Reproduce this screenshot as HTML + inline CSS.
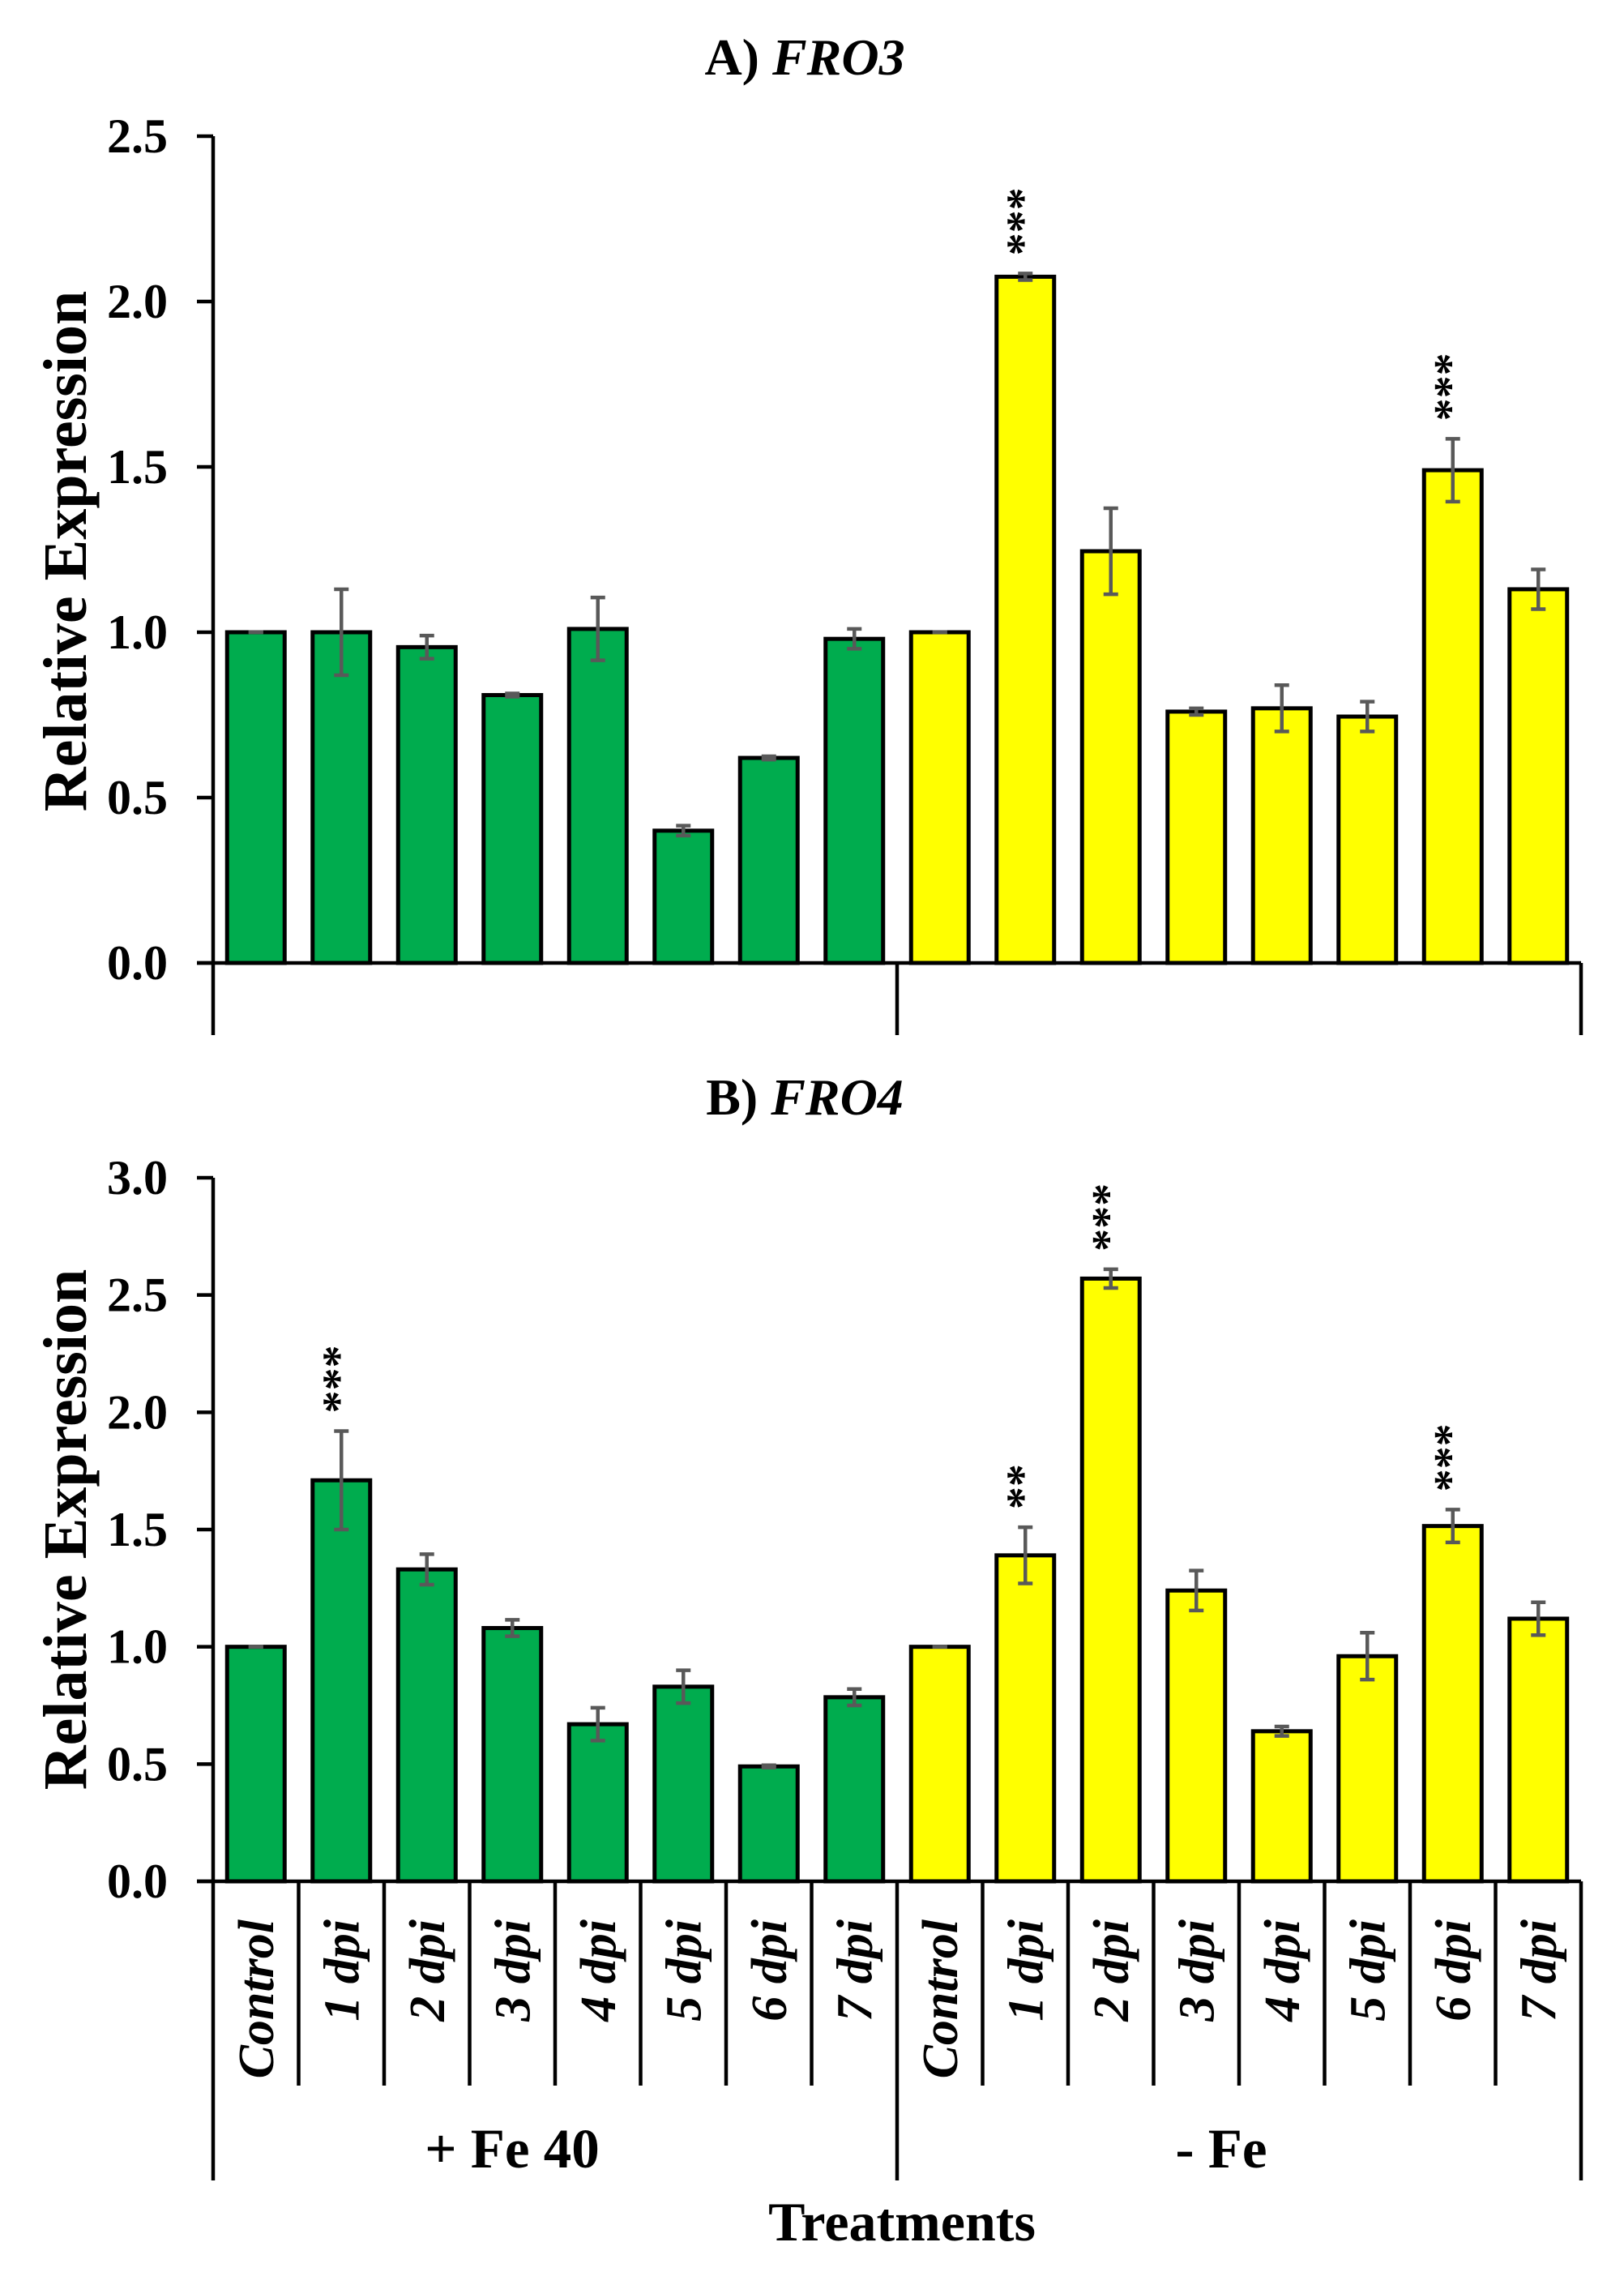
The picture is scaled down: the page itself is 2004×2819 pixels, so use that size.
<!DOCTYPE html>
<html><head><meta charset="utf-8">
<style>
html,body{margin:0;padding:0;background:#fff;}
svg{display:block;}
text{font-family:"Liberation Serif",serif;font-weight:bold;fill:#000;}
</style></head>
<body>
<svg id="fig" width="2004" height="2819" viewBox="0 0 2004 2819" xmlns="http://www.w3.org/2000/svg"></svg>
<script>
const categories = ["Control","1 dpi","2 dpi","3 dpi","4 dpi","5 dpi","6 dpi","7 dpi","Control","1 dpi","2 dpi","3 dpi","4 dpi","5 dpi","6 dpi","7 dpi"];
const groups = ["+ Fe 40","- Fe"];
const fro3Values = [1.0,1.0,0.955,0.81,1.01,0.40,0.62,0.98, 1.0,2.075,1.245,0.76,0.77,0.745,1.49,1.13];
const fro3Errors = [0.0,0.13,0.035,0.005,0.095,0.015,0.005,0.03, 0.0,0.01,0.13,0.01,0.07,0.045,0.095,0.06];
const fro3Stars = ["","","","","","","","", "","***","","","","","***",""];
const fro3Ticks = [0,0.5,1.0,1.5,2.0,2.5];
const fro4Values = [1.0,1.71,1.33,1.08,0.67,0.83,0.49,0.785, 1.0,1.39,2.57,1.24,0.64,0.96,1.515,1.12];
const fro4Errors = [0.0,0.21,0.065,0.035,0.07,0.07,0.005,0.035, 0.0,0.12,0.04,0.085,0.02,0.1,0.07,0.07];
const fro4Stars = ["","***","","","","","","", "","**","***","","","","***",""];
const fro4Ticks = [0,0.5,1.0,1.5,2.0,2.5,3.0];

const NS="http://www.w3.org/2000/svg";
const svg=document.getElementById('fig');
function mk(tag,attrs,parent,txt){const e=document.createElementNS(NS,tag);for(const k in attrs)e.setAttribute(k,attrs[k]);if(txt!==undefined)e.textContent=txt;(parent||svg).appendChild(e);return e;}

const X0=263, X1=1951, N=categories.length, pitch=(X1-X0)/N, barW=71;
function xc(i){return X0+pitch*(i+0.5);}

function panel(opt){
  const g=mk('g',{});
  
  
  const y=v=>opt.y0-(v/opt.max)*(opt.y0-opt.yTop);
  const t=mk('text',{x:993,y:opt.titleY,'text-anchor':'middle','font-size':64},g);
  
  
  mk('tspan',{},t,opt.letter+' ');
  mk('tspan',{'font-style':'italic'},t,opt.gene);
  const yt=mk('text',{x:0,y:0,'text-anchor':'middle','font-size':76,transform:`translate(106,${opt.yTitleC}) rotate(-90)`},g,'Relative Expression');
  
  
  for(let i=0;i<N;i++){
    const v=opt.values[i];
    const r=mk('rect',{x:xc(i)-barW/2,y:y(v),width:barW,height:opt.y0-y(v),fill:i<8?'#00ac4e':'#ffff00',stroke:'#000','stroke-width':5},g);
    
    
    const e=opt.errors[i];
    const eg=mk('g',{stroke:'#595959','stroke-width':4.5},g);
    
    
    mk('line',{x1:xc(i),x2:xc(i),y1:y(v+e),y2:y(v-e)},eg);
    mk('line',{x1:xc(i)-9,x2:xc(i)+9,y1:y(v+e),y2:y(v+e)},eg);
    mk('line',{x1:xc(i)-9,x2:xc(i)+9,y1:y(v-e),y2:y(v-e)},eg);
    if(opt.stars[i]){
      const sy=y(v+e)-22;
      const s=mk('text',{x:0,y:0,'font-size':56,'font-weight':'normal','text-anchor':'start',transform:`translate(${xc(i)+15},${sy}) rotate(-90)`},g,opt.stars[i]);
      
      
    }
  }
  const ax=mk('g',{stroke:'#000','stroke-width':4.5,fill:'none'},g);
  
  
  mk('line',{x1:X0,x2:X0,y1:opt.yTop,y2:opt.axisBottom},ax);
  mk('line',{x1:X0-20,x2:X1,y1:opt.y0,y2:opt.y0},ax);
  for(const tv of opt.ticks){
    mk('line',{x1:X0-20,x2:X0,y1:y(tv),y2:y(tv)},ax);
    const tl=mk('text',{x:207,y:y(tv)+20,'text-anchor':'end','font-size':60},g,tv.toFixed(1));
    
    
  }
  mk('line',{x1:X0+pitch*8,x2:X0+pitch*8,y1:opt.y0,y2:opt.axisBottom},ax);
  mk('line',{x1:X1,x2:X1,y1:opt.y0,y2:opt.axisBottom},ax);
  if(opt.catLabels){
    for(let i=1;i<N;i++){ if(i!==8) mk('line',{x1:X0+pitch*i,x2:X0+pitch*i,y1:opt.y0,y2:2573},ax); }
    for(let i=0;i<N;i++){
      const c=mk('text',{x:0,y:0,'text-anchor':'end','font-size':62,'font-style':'italic',transform:`translate(${xc(i)+21},2368) rotate(-90)`},g,categories[i]);
      
      
    }
    const g1=mk('text',{x:632,y:2674,'text-anchor':'middle','font-size':69},g,groups[0]);
    
    
    const g2=mk('text',{x:1507,y:2674,'text-anchor':'middle','font-size':69},g,groups[1]);
    
    
    const xt=mk('text',{x:1113,y:2764,'text-anchor':'middle','font-size':68},g,'Treatments');
    
    
  }
}
panel({name:'chart-fro3',letter:'A)',gene:'FRO3',titleY:92,yTitleC:680,y0:1188,yTop:168,max:2.5,axisBottom:1277,
  values:fro3Values,errors:fro3Errors,stars:fro3Stars,ticks:fro3Ticks,catLabels:false});
panel({name:'chart-fro4',letter:'B)',gene:'FRO4',titleY:1375,yTitleC:1887,y0:2321,yTop:1453,max:3.0,axisBottom:2690,
  values:fro4Values,errors:fro4Errors,stars:fro4Stars,ticks:fro4Ticks,catLabels:true});
</script>
</body></html>
